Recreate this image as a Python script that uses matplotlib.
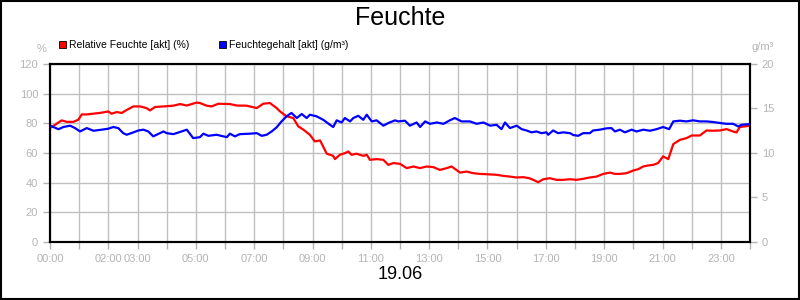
import matplotlib.pyplot as plt
import matplotlib.patches as mpatches

plt.rcParams["font.family"] = ["Liberation Sans", "DejaVu Sans"]

# time in hours since 00:00
rel_hours = [
    0.06, 0.40, 0.57, 0.80, 0.97, 1.09, 1.26, 1.71, 2.00, 2.11, 2.29, 2.46,
    2.63, 2.86, 3.09, 3.31, 3.43, 3.60, 3.89, 4.23, 4.46, 4.69, 5.03, 5.14,
    5.37, 5.54, 5.77, 6.17, 6.40, 6.74, 7.09, 7.31, 7.54, 7.77, 7.89, 8.11,
    8.34, 8.51, 8.69, 8.91, 9.08, 9.26, 9.49, 9.71, 9.77, 9.94, 10.11, 10.23,
    10.34, 10.51, 10.74, 10.86, 10.97, 11.20, 11.43, 11.60, 11.77, 12.00,
    12.23, 12.46, 12.69, 12.91, 13.14, 13.37, 13.60, 13.77, 14.06, 14.29,
    14.51, 14.74, 14.97, 15.31, 15.54, 15.77, 15.99, 16.23, 16.43, 16.57,
    16.74, 16.91, 17.14, 17.37, 17.60, 17.83, 18.05, 18.28, 18.51, 18.74,
    18.97, 19.20, 19.37, 19.54, 19.77, 20.00, 20.17, 20.34, 20.51, 20.68,
    20.85, 21.02, 21.20, 21.37, 21.60, 21.82, 22.00, 22.28, 22.51, 22.74,
    22.97, 23.20, 23.42, 23.54, 23.65, 24.00,
]
rel_feuchte = [
    77.5, 82.0, 81.0, 81.0, 82.4, 86.0, 86.0, 87.0, 88.0, 86.5, 87.6, 87.0,
    89.0, 91.4, 91.4, 90.3, 88.7, 91.0, 91.4, 91.9, 93.0, 92.0, 94.0, 93.7,
    91.9, 91.4, 93.2, 93.0, 92.0, 91.9, 90.3, 93.2, 93.7, 90.3, 88.0, 84.7,
    83.6, 78.0, 75.7, 72.3, 67.8, 68.5, 59.5, 58.1, 55.9, 58.8, 59.9, 61.0,
    58.8, 59.5, 58.1, 58.8, 55.4, 55.9, 55.4, 52.0, 53.2, 52.7, 49.8, 50.9,
    49.8, 50.9, 50.5, 48.6, 49.8, 50.9, 46.8, 47.5, 46.4, 45.9, 45.7, 45.3,
    44.6, 44.1, 43.5, 43.7, 43.0, 41.9, 40.3, 42.3, 43.0, 41.9, 41.9, 42.3,
    41.9, 42.6, 43.5, 44.1, 45.9, 46.8, 45.9, 45.9, 46.4, 48.2, 49.1, 50.9,
    51.6, 52.0, 53.2, 57.7, 55.9, 66.0, 68.9, 70.0, 71.8, 71.8, 75.2, 75.0,
    75.2, 76.1, 74.5, 73.9, 77.5, 78.4,
]

abs_hours = [
    0.06, 0.29, 0.46, 0.69, 0.86, 1.03, 1.26, 1.49, 1.77, 2.00, 2.17, 2.34,
    2.51, 2.63, 2.86, 3.03, 3.20, 3.37, 3.54, 3.77, 3.89, 4.00, 4.23, 4.51,
    4.69, 4.91, 5.14, 5.26, 5.43, 5.71, 6.06, 6.17, 6.34, 6.51, 6.86, 7.09,
    7.26, 7.43, 7.60, 7.77, 7.94, 8.11, 8.28, 8.46, 8.63, 8.80, 8.91, 9.14,
    9.37, 9.60, 9.71, 9.83, 10.00, 10.11, 10.29, 10.40, 10.57, 10.74, 10.86,
    11.03, 11.20, 11.43, 11.60, 11.83, 11.94, 12.17, 12.34, 12.57, 12.69,
    12.86, 13.03, 13.26, 13.49, 13.71, 13.88, 14.11, 14.40, 14.63, 14.86,
    15.09, 15.31, 15.48, 15.60, 15.77, 16.00, 16.17, 16.34, 16.51, 16.68,
    16.85, 17.02, 17.08, 17.25, 17.42, 17.60, 17.83, 17.94, 18.11, 18.28,
    18.51, 18.62, 18.85, 19.08, 19.25, 19.37, 19.54, 19.71, 19.94, 20.11,
    20.34, 20.57, 20.80, 21.02, 21.23, 21.37, 21.60, 21.82, 22.05, 22.28,
    22.51, 22.74, 22.97, 23.20, 23.42, 23.60, 23.71, 24.00,
]
abs_feuchte = [
    13.00, 12.67, 12.92, 13.07, 12.80, 12.42, 12.80, 12.50, 12.62, 12.73,
    12.92, 12.80, 12.23, 12.05, 12.32, 12.53, 12.62, 12.42, 11.87, 12.23,
    12.42, 12.23, 12.12, 12.42, 12.62, 11.67, 11.78, 12.17, 11.93, 12.05,
    11.78, 12.17, 11.87, 12.12, 12.17, 12.23, 11.93, 12.05, 12.42, 12.88,
    13.55, 14.12, 14.50, 13.93, 14.38, 13.93, 14.30, 14.12, 13.73, 13.17,
    12.92, 13.67, 13.43, 13.93, 13.55, 13.93, 14.18, 13.73, 14.30, 13.55,
    13.67, 13.07, 13.37, 13.67, 13.55, 13.63, 13.07, 13.43, 12.92, 13.55,
    13.28, 13.43, 13.28, 13.67, 13.93, 13.55, 13.55, 13.28, 13.43, 13.07,
    13.17, 12.68, 13.43, 12.80, 13.07, 12.68, 12.53, 12.32, 12.42, 12.23,
    12.32, 12.05, 12.53, 12.23, 12.32, 12.23, 12.02, 11.93, 12.23, 12.23,
    12.53, 12.62, 12.77, 12.80, 12.42, 12.62, 12.32, 12.62, 12.42, 12.62,
    12.50, 12.68, 12.92, 12.68, 13.55, 13.63, 13.55, 13.67, 13.55, 13.55,
    13.48, 13.37, 13.28, 13.28, 12.98, 13.17, 13.25,
]

hour_ticks = list(range(25))
hour_labels = [
    "00:00", "", "02:00", "03:00", "", "05:00", "", "07:00", "", "09:00", "",
    "11:00", "", "13:00", "", "15:00", "", "17:00", "", "19:00", "", "21:00",
    "", "23:00", "",
]
left_ticks = [0, 20, 40, 60, 80, 100, 120]
right_ticks = [0, 5, 10, 15, 20]

GREY = "#b4b4b4"
GRID = "#c0c0c0"

fig = plt.figure(figsize=(8, 3), dpi=100)
ax = fig.add_axes([50 / 800, 58 / 300, 700 / 800, 178 / 300])
ax2 = ax.twinx()

ax.plot(rel_hours, rel_feuchte, color="#ff0000", linewidth=1.6, zorder=3)
ax2.plot(abs_hours, abs_feuchte, color="#0000ff", linewidth=1.6, zorder=3)

ax.set_xlim(0, 24)
ax.set_ylim(0, 120)
ax2.set_ylim(0, 20)
ax.set_xticks(hour_ticks)
ax.set_xticklabels(hour_labels)
ax.set_yticks(left_ticks)
ax2.set_yticks(right_ticks)

ax.grid(True, color=GRID, linewidth=1)
ax.set_axisbelow(True)
for a in (ax, ax2):
    a.tick_params(colors=GREY, labelcolor=GREY, labelsize=8, length=5, width=1)
    for s in a.spines.values():
        s.set_color("black")
        s.set_linewidth(1.5)

fig.text(0.5, 0.94, "Feuchte", ha="center", va="center", fontsize=18)
fig.text(0.5, 0.085, "19.06", ha="center", va="center", fontsize=13)
fig.text(42 / 800, 1 - 49 / 300, "%", ha="center", va="center", fontsize=8, color=GREY)
fig.text(763 / 800, 1 - 47 / 300, "g/m³", ha="center", va="center", fontsize=8, color=GREY)

# legend squares + labels
for x0, col, label in [(59, "#ff0000", "Relative Feuchte [akt] (%)"),
                       (219, "#0000ff", "Feuchtegehalt [akt] (g/m³)")]:
    fig.patches.append(mpatches.Rectangle(
        (x0 / 800, 1 - 48 / 300), 7 / 800, 7 / 300,
        transform=fig.transFigure, facecolor=col, edgecolor="black", linewidth=0.6))
    fig.text((x0 + 10) / 800, 1 - 44.5 / 300, label, ha="left", va="center", fontsize=7.5)

fig.patches.append(mpatches.Rectangle(
    (0.001, 0.002), 0.998, 0.996, transform=fig.transFigure,
    fill=False, edgecolor="black", linewidth=1.5))

fig.savefig("out.png", dpi=100)
